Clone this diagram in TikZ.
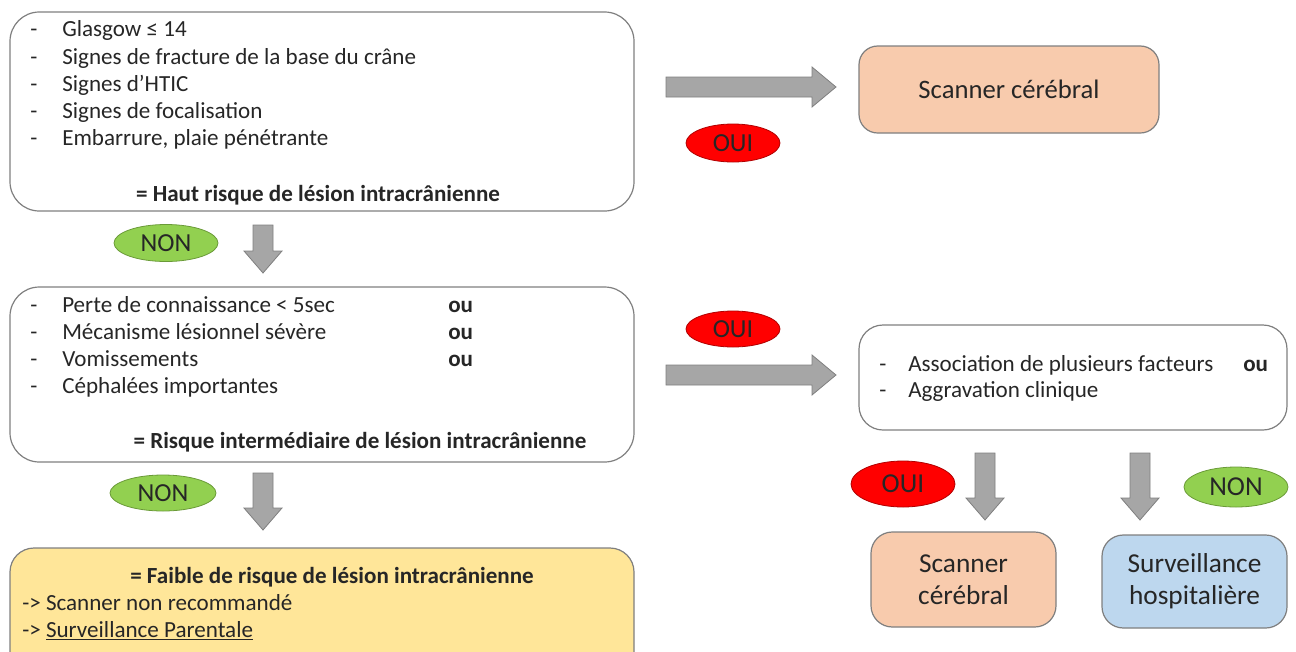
\documentclass[tikz,border=0pt]{standalone}
\usepackage{fontspec}
\setmainfont{Carlito}
\usetikzlibrary{shapes.geometric}
\definecolor{peach}{HTML}{F8CBAD}
\definecolor{lblue}{HTML}{BDD7EE}
\definecolor{lyellow}{HTML}{FFE699}
\definecolor{lgreen}{HTML}{92D050}
\definecolor{dgreen}{HTML}{6A9A38}
\definecolor{dred}{HTML}{B00000}
\definecolor{arrfill}{HTML}{A6A6A6}
\definecolor{arrline}{HTML}{7F7F7F}
\definecolor{boxline}{HTML}{7F7F7F}
\definecolor{txt}{HTML}{262626}
\newcommand\pxl[1]{#1*0.75pt}
\newcommand\rarr[4]{\filldraw[arrowsty] (#1,#3-10) -- (#2-24,#3-10) -- (#2-24,#3-20) -- (#2,#3) -- (#2-24,#3+20) -- (#2-24,#3+10) -- (#1,#3+10) -- cycle;}
\newcommand\darr[3]{\filldraw[arrowsty] (#1-10,#2) -- (#1+10,#2) -- (#1+10,#3-22) -- (#1+19,#3-22) -- (#1,#3) -- (#1-19,#3-22) -- (#1-10,#3-22) -- (#1-10,#2) -- cycle;}
\begin{document}
\begin{tikzpicture}[x=0.75pt,y=-0.75pt,
  every node/.style={font=\fontsize{17.3}{21}\selectfont, text=txt},
  box/.style={draw=boxline, line width=0.9pt, rounded corners=#1, inner sep=0pt},
  box/.default=22pt,
  ln/.style={anchor=base west, inner sep=0pt},
  bl/.style={anchor=base, inner sep=0pt, font=\fontsize{17.3}{21}\selectfont\bfseries},
  arrowsty/.style={fill=arrfill, draw=arrline, line width=0.6pt},
  lab/.style={ellipse, line width=0.6pt, inner sep=0pt, font=\fontsize{19.5}{22}\selectfont},
  oui/.style={lab, fill=red, draw=dred, minimum width=\pxl{94}, minimum height=\pxl{38}},
  non/.style={lab, fill=lgreen, draw=dgreen, minimum width=\pxl{104}, minimum height=\pxl{37}}
]
\useasboundingbox (0,0) rectangle (1296,651);
\clip (0,0) rectangle (1296,651);

% Box 1
\node[box=22pt, minimum width=\pxl{624}, minimum height=\pxl{199}] (b1) at (322,111.5) {};
\foreach \y/\t in {36/{Glasgow ≤ 14}, 64/{Signes de fracture de la base du crâne}, 91/{Signes d’HTIC}, 118/{Signes de focalisation}, 145/{Embarrure, plaie pénétrante}}{
  \node[ln] at (30,\y) {-};
  \node[ln] at (62,\y) {\t};
}
\node[bl] (b1t) at (318,201) {= Haut risque de lésion intracrânienne};

% Scanner 1
\node[box=14pt, fill=peach, minimum width=\pxl{300}, minimum height=\pxl{87}, font=\fontsize{20}{24}\selectfont] (s1) at (1009,89.5) {Scanner cérébral};
\rarr{666}{836}{87}{}
\node[oui] (o1) at (733,143) {OUI};

% NON 1 and arrow
\node[non] (n1) at (166,243) {NON};
\darr{263}{225}{273}

% Box 2
\node[box=22pt, minimum width=\pxl{624}, minimum height=\pxl{175}] (b2) at (322,374.5) {};
\foreach \y/\t in {312/{Perte de connaissance < 5sec}, 339/{Mécanisme lésionnel sévère}, 366/{Vomissements}, 393/{Céphalées importantes}}{
  \node[ln] at (30,\y) {-};
  \node[ln] at (62,\y) {\t};
}
\foreach \y in {312,339,366}{\node[ln, font=\fontsize{17.3}{21}\selectfont\bfseries] at (448,\y) {ou};}
\node[bl] (b2t) at (360,448) {= Risque intermédiaire de lésion intracrânienne};

% OUI 2 and arrow
\node[oui, minimum height=\pxl{36}] (o2) at (733,329) {OUI};
\rarr{666}{836}{375}{}

% Box 3
\node[box=18pt, minimum width=\pxl{428}, minimum height=\pxl{105}] (b3) at (1073,377.5) {};
\node[ln] at (879,371) {-};
\node[ln] at (908,371) {Association de plusieurs facteurs};
\node[ln, font=\fontsize{17.3}{21}\selectfont\bfseries] at (1243,371) {ou};
\node[ln] at (879,397) {-};
\node[ln] at (908,397) {Aggravation clinique};

% lower right
\darr{985}{453}{520}
\darr{1140}{453}{520}
\node[oui, minimum width=\pxl{104}, minimum height=\pxl{46}, font=\fontsize{20.5}{24}\selectfont] (o3) at (903,484) {OUI};
\node[non, minimum width=\pxl{104}, minimum height=\pxl{40}, font=\fontsize{20.5}{24}\selectfont] (n3) at (1236,487) {NON};
\node[box=16pt, fill=peach, minimum width=\pxl{185}, minimum height=\pxl{95}, align=center, font=\fontsize{20.5}{24}\selectfont] (s2) at (963.5,579.5) {Scanner\\cérébral};
\node[box=16pt, fill=lblue, minimum width=\pxl{185}, minimum height=\pxl{93}, align=center, font=\fontsize{20.5}{24}\selectfont] (sv) at (1194.5,581.5) {Surveillance\\hospitalière};

% NON 2 and arrow
\node[non, minimum width=\pxl{106}, minimum height=\pxl{36}] (n2) at (163,493) {NON};
\darr{263}{473}{530}

% Box 6
\node[box=18pt, fill=lyellow, minimum width=\pxl{624}, minimum height=\pxl{132}] (b6) at (322,614) {};
\node[bl] (b6t) at (332,583) {= Faible de risque de lésion intracrânienne};
\node[ln] at (22,610) {-> Scanner non recommandé};
\node[ln] at (22,637) {-> \underline{Surveillance Parentale}};
\end{tikzpicture}
\end{document}
